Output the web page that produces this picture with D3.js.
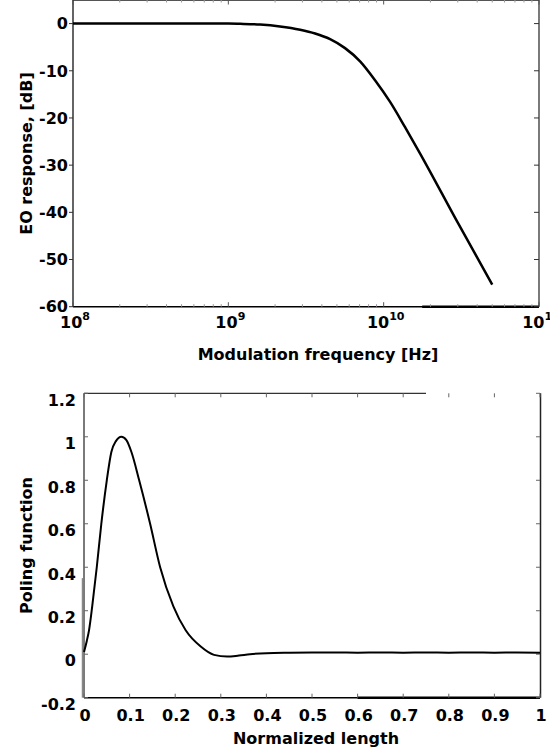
<!DOCTYPE html>
<html><head><meta charset="utf-8">
<script src="https://cdn.jsdelivr.net/npm/d3@7"></script>
<style>
body{margin:0;background:#fff}
svg{display:block}
text{font-family:"DejaVu Sans";font-weight:bold;font-size:16px;fill:#000}
</style>
</head><body><svg id="c" width="550" height="754"></svg>
<script>
// ---- Top panel data: EO response vs modulation frequency ----
const freqHz = [1e8, 5e8, 1e9, 1.19e9, 1.6e9, 2.15e9, 2.9e9, 3.62e9, 4.52e9, 5.64e9, 7.05e9, 8.8e9, 1.1e10, 1.37e10, 1.72e10, 3e10, 5e10];
const responseDb = [0, 0, 0, -0.05, -0.2, -0.6, -1.3, -2.1, -3.3, -5.2, -8.0, -12.0, -16.6, -21.9, -27.6, -42.2, -55.3];
const dbTicks = [0, -10, -20, -30, -40, -50, -60];
const dbTickLabels = ["0", "-10", "-20", "-30", "-40", "-50", "-60"];
const decadeExps = [8, 9, 10, 11];
const minorMultipliers = [2, 3, 4, 5, 6, 7, 8, 9];

// ---- Bottom panel data: poling function vs normalized length ----
const normLength = [0, 0.006, 0.011, 0.018, 0.028, 0.038, 0.05, 0.06, 0.07, 0.082, 0.093, 0.104, 0.121, 0.145, 0.167, 0.196, 0.223, 0.256, 0.285, 0.314, 0.34, 0.364, 0.40, 0.45, 0.5, 0.55, 0.6, 0.65, 0.7, 0.75, 0.8, 0.85, 0.9, 0.95, 1.0];
const polingValues = [0.01, 0.06, 0.11, 0.22, 0.40, 0.60, 0.80, 0.93, 0.98, 1.0, 0.985, 0.93, 0.80, 0.60, 0.40, 0.22, 0.11, 0.035, -0.003, -0.011, -0.006, 0.0, 0.005, 0.007, 0.008, 0.008, 0.007, 0.008, 0.007, 0.008, 0.007, 0.008, 0.007, 0.008, 0.007];
const polTicks = [-0.2, 0, 0.2, 0.4, 0.6, 0.8, 1.0, 1.2];
const polTickLabels = ["-0.2", "0", "0.2", "0.4", "0.6", "0.8", "1", "1.2"];
const lenTicks = [0, 0.1, 0.2, 0.3, 0.4, 0.5, 0.6, 0.7, 0.8, 0.9, 1.0];
const lenTickLabels = ["0", "0.1", "0.2", "0.3", "0.4", "0.5", "0.6", "0.7", "0.8", "0.9", "1"];

const svg = d3.select("#c");

function line(g, x1, y1, x2, y2, stroke, w) {
  g.append("line").attr("x1", x1).attr("y1", y1).attr("x2", x2).attr("y2", y2)
    .attr("stroke", stroke).attr("stroke-width", w);
}

// ================= TOP PANEL =================
{
  const L = 73, R = 539, T = 0, B = 306.7;
  const x = d3.scaleLog().domain([1e8, 1e11]).range([L, R]);
  const y = d3.scaleLinear().domain([-60, 5]).range([B, T]);
  const g = svg.append("g");

  // frame
  line(g, L, T + 0.5, R, T + 0.5, "#555", 1);
  line(g, R, T, R, B, "#222", 1.2);
  line(g, L, T, L, B, "#111", 1.3);
  line(g, L, B, R, B, "#000", 1.5);
  line(g, x(1.77e10), B, R, B, "#000", 2.6);

  // minor log ticks
  decadeExps.slice(0, 3).forEach(e => {
    minorMultipliers.forEach(m => {
      const xv = x(m * Math.pow(10, e));
      line(g, xv, B, xv, B - 2.5, "#999", 1);
      line(g, xv, T, xv, T + 2.5, "#999", 1);
    });
  });
  // major ticks
  decadeExps.forEach(e => {
    const xv = x(Math.pow(10, e));
    line(g, xv, B, xv, B - 4.5, "#555", 1);
    line(g, xv, T, xv, T + 4.5, "#555", 1);
  });
  // y ticks
  dbTicks.forEach(v => {
    line(g, L - 4, y(v), L, y(v), "#333", 1);
    line(g, R - 5, y(v), R, y(v), "#333", 1);
  });

  // tick labels
  g.selectAll("text.yl").data(dbTicks).join("text").attr("class", "yl")
    .attr("x", 68).attr("y", d => y(d)).attr("dy", "0.36em")
    .attr("text-anchor", "end").text((d, i) => dbTickLabels[i]);

  decadeExps.forEach(e => {
    const t = g.append("text").attr("x", x(Math.pow(10, e)) + 2).attr("y", 328)
      .attr("text-anchor", "middle").text("10");
    t.append("tspan").attr("dy", -8).style("font-size", "11px").text(e);
  });

  // titles
  g.append("text").attr("x", 318).attr("y", 360).attr("text-anchor", "middle")
    .text("Modulation frequency [Hz]");
  g.append("text").attr("transform", "translate(31.5,153.5) rotate(-90)")
    .attr("text-anchor", "middle").text("EO response, [dB]");

  // curve
  const pts = freqHz.map((f, i) => [x(f), y(responseDb[i])]);
  g.append("path").attr("d", d3.line().curve(d3.curveMonotoneX)(pts))
    .attr("fill", "none").attr("stroke", "#000").attr("stroke-width", 2.5);
}

// ================= BOTTOM PANEL =================
{
  const L = 84, R = 540, T = 393.3, B = 697.7;
  const x = d3.scaleLinear().domain([0, 1]).range([L, R]);
  const y = d3.scaleLinear().domain([-0.2, 1.2]).range([B, T]);
  const g = svg.append("g");

  // frame
  line(g, L, T, x(0.75), T, "#333", 1.2);
  line(g, R + 0.5, T, R + 0.5, B, "#222", 1.5);
  line(g, L, T, L, B, "#222", 1.2);
  line(g, L - 1.5, y(0.35), L - 1.5, B, "#888", 1.5);
  line(g, L, B, R, B, "#000", 1.5);
  line(g, x(0.6), B, R, B, "#000", 2.6);

  // ticks
  lenTicks.forEach(v => {
    line(g, x(v), B, x(v), B - 4, "#666", 1);
    line(g, x(v), T, x(v), T + 4, "#666", 1);
  });
  polTicks.forEach(v => {
    line(g, L, y(v), L + 4, y(v), "#666", 1);
    line(g, R, y(v), R - 4, y(v), "#666", 1);
  });

  // tick labels
  g.selectAll("text.yl").data(polTicks).join("text").attr("class", "yl")
    .attr("x", 76).attr("y", d => y(d) + 6.5).attr("dy", "0.36em")
    .attr("text-anchor", "end").text((d, i) => polTickLabels[i]);
  g.selectAll("text.xl").data(lenTicks).join("text").attr("class", "xl")
    .attr("x", d => x(d) + 1).attr("y", 720.5)
    .attr("text-anchor", "middle").text((d, i) => lenTickLabels[i]);

  // titles
  g.append("text").attr("x", 316).attr("y", 744).attr("text-anchor", "middle")
    .text("Normalized length");
  g.append("text").attr("transform", "translate(31.5,545.5) rotate(-90)")
    .attr("text-anchor", "middle").text("Poling function");

  // curve
  const pts = normLength.map((v, i) => [x(v), y(polingValues[i])]);
  g.append("path").attr("d", d3.line().curve(d3.curveMonotoneX)(pts))
    .attr("fill", "none").attr("stroke", "#000").attr("stroke-width", 2);
}
</script>
</body></html>
